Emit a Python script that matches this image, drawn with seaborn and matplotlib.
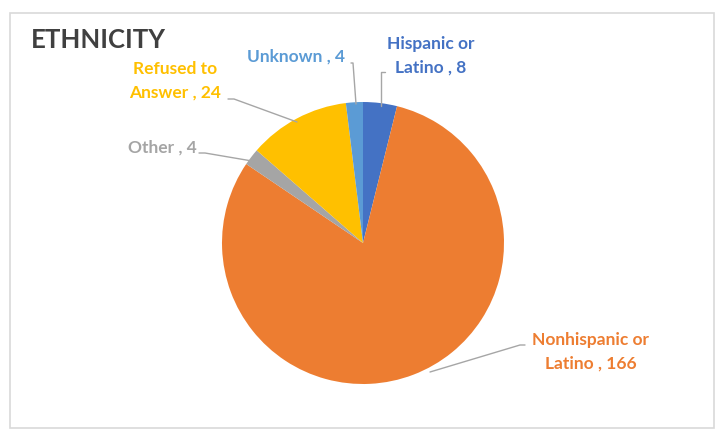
import matplotlib
matplotlib.use("Agg")
import matplotlib.pyplot as plt
from matplotlib.patches import Rectangle
import seaborn as sns

sns.set_theme(style="white")
plt.rcParams['font.family'] = ['Lato', 'DejaVu Sans']

# Data
categories = ["Hispanic or\nLatino", "Nonhispanic or\nLatino", "Other", "Refused to\nAnswer", "Unknown"]
values = [8, 166, 4, 24, 4]
colors = ["#4472C4", "#ED7D31", "#A5A5A5", "#FFC000", "#5B9BD5"]
title = "ETHNICITY"

W, H = 718, 432
fig = plt.figure(figsize=(W / 100, H / 100), dpi=100)
fig.patch.set_facecolor("white")

# outer chart border
fig.patches.append(Rectangle((10 / W, 4 / H), 704 / W, 415 / H, transform=fig.transFigure,
                             fill=False, edgecolor="#D9D9D9", linewidth=1.2))

cx, cy, r = 363, 243, 141  # pie center (pixels from top) and radius
ax = fig.add_axes([(cx - r) / W, (H - cy - r) / H, 2 * r / W, 2 * r / H])
wedges, _ = ax.pie(values, colors=colors, startangle=90, counterclock=False,
                   radius=1, wedgeprops=dict(linewidth=0))
ax.set_xlim(-1, 1)
ax.set_ylim(-1, 1)
ax.set_aspect("equal")
ax.axis("off")


def d(px, py):
    return ((px - cx) / r, (cy - py) / r)


# label layout (pixel positions)
label_pos = [(431, 56), (591, 352), (162, 148), (175, 81), (296, 57)]
leaders = [
    [(385, 72), (381, 72), (381, 106)],
    [(525, 345), (520, 345), (430, 372)],
    [(199, 153), (205, 153), (252, 161)],
    [(228, 99), (234, 99), (297, 122)],
    [(351, 63), (353, 63), (356, 104)],
]

for cat, val, col, pos, ld in zip(categories, values, colors, label_pos, leaders):
    x, y = d(*pos)
    ax.text(x, y, f"{cat} , {val}", color=col, fontsize=12.5, fontweight="bold",
            ha="center", va="center", linespacing=1.6, clip_on=False)
    xs, ys = zip(*[d(*p) for p in ld])
    ax.plot(xs, ys, color="#A6A6A6", linewidth=1, clip_on=False)

fig.text(31 / W, 1 - 40 / H, title, color="#404040", fontsize=18.5, fontweight="bold",
         ha="left", va="center")

fig.savefig("out.png", dpi=100)
